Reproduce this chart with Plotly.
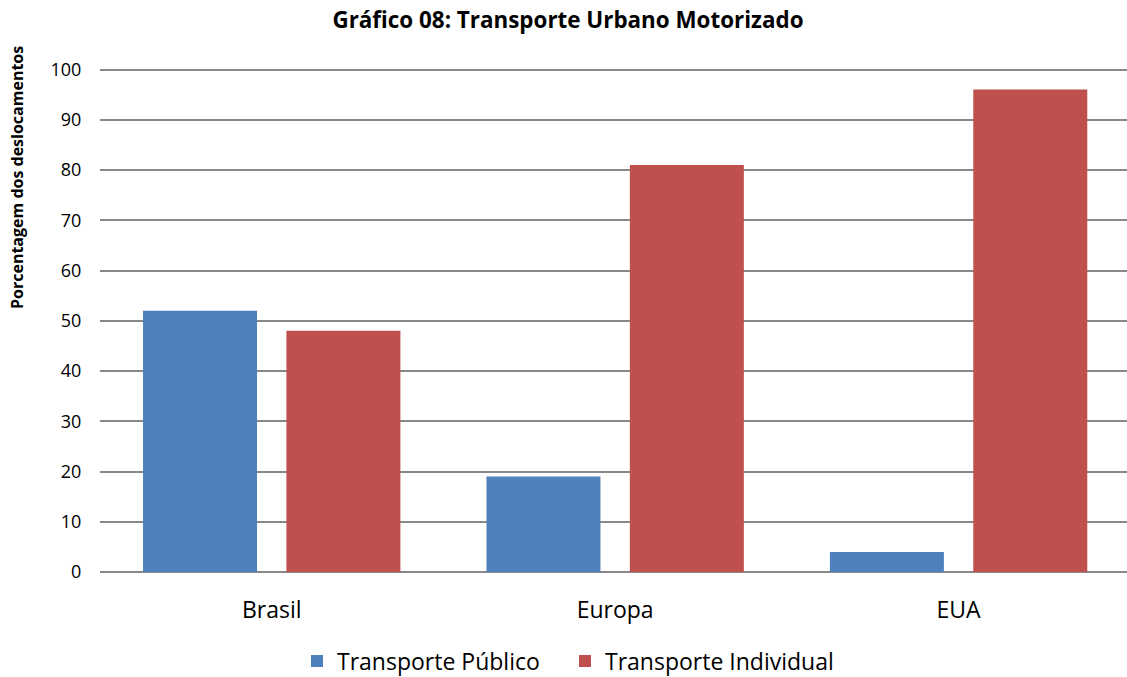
import plotly.graph_objects as go

categories = ["Brasil", "Europa", "EUA"]
publico = [52, 19, 4]
individual = [48, 81, 96]
series_names = ["Transporte Público", "Transporte Individual"]
colors = ["#4F81BD", "#C0504D"]
y_ticks = list(range(0, 101, 10))

FONT = "Open Sans"
W, H = 1127, 677
L, R, T, B = 100, 0, 68, 105
PH = H - T - B
PW = W - L - R

fig = go.Figure()
for name, vals, col in zip(series_names, [publico, individual], colors):
    fig.add_trace(go.Bar(x=categories, y=vals, name=name, marker=dict(color=col, line=dict(width=0))))

fig.add_annotation(
    text="<b>Porcentagem dos deslocamentos</b>", textangle=-90,
    xref="paper", yref="paper", x=(17 - L) / PW, y=(H - B - 178) / PH,
    xanchor="center", yanchor="middle", showarrow=False,
    font=dict(family=FONT, size=16, color="black"),
)

fig.update_layout(
    width=W, height=H,
    margin=dict(l=L, r=R, t=T, b=B, autoexpand=False),
    paper_bgcolor="white", plot_bgcolor="white",
    barmode="group", bargap=0.165, bargroupgap=0.205,
    title=dict(text="<b>Gráfico 08: Transporte Urbano Motorizado</b>",
               x=568 / W, xanchor="center", y=1 - 20 / H, yanchor="middle",
               font=dict(family=FONT, size=22.4, color="black")),
    font=dict(family=FONT, color="black"),
    showlegend=True,
    legend=dict(orientation="h", x=(297 - L) / PW, xanchor="left", y=(H - B - 661) / PH, yanchor="middle",
                font=dict(family=FONT, size=23, color="black"),
                entrywidth=223, entrywidthmode="pixels",
                traceorder="normal"),
    xaxis=dict(range=[-0.5, 2.4904], showline=False, ticks="outside", ticklen=17,
               tickcolor="rgba(0,0,0,0)",
               tickfont=dict(family=FONT, size=23, color="black"), automargin=False),
    yaxis=dict(range=[0, 100.3], tickvals=y_ticks, showgrid=True, gridcolor="#888888", gridwidth=1.5,
               zeroline=True, zerolinecolor="#888888", zerolinewidth=1.5,
               showline=False, ticks="outside", ticklen=14, tickcolor="rgba(0,0,0,0)",
               tickfont=dict(family=FONT, size=18, color="black"), automargin=False),
)

fig.write_html("out.html", config={"displayModeBar": False},
               post_script="document.body.style.margin='0';document.body.style.overflow='hidden';")
